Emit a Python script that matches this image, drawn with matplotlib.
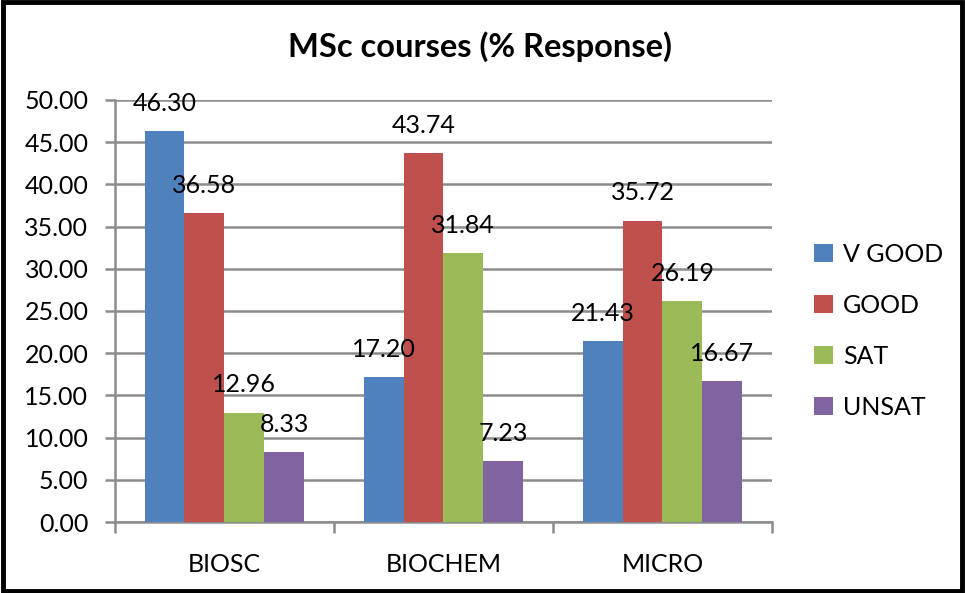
import numpy as np
import matplotlib.pyplot as plt
from matplotlib.patches import Rectangle

plt.rcParams['font.family'] = ['Lato', 'DejaVu Sans']

courses = ['BIOSC', 'BIOCHEM', 'MICRO']
series = ['V GOOD', 'GOOD', 'SAT', 'UNSAT']
v_good = [46.30, 17.20, 21.43]
good = [36.58, 43.74, 35.72]
sat = [12.96, 31.84, 26.19]
unsat = [8.33, 7.23, 16.67]
yticks = [0, 5, 10, 15, 20, 25, 30, 35, 40, 45, 50]

colors = ['#4F81BD', '#C0504D', '#9BBB59', '#8064A2']
grid_col = '#8C8C8C'

fig = plt.figure(figsize=(9.65, 5.93), dpi=100)
ax = fig.add_axes([0.119, 0.1197, 0.681, 0.7117])

x = np.arange(len(courses))
w = 0.182
for i, (name, vals) in enumerate(zip(series, [v_good, good, sat, unsat])):
    pos = x + (i - 1.5) * w
    ax.bar(pos, vals, width=w, color=colors[i], label=name, zorder=3)
    for p, v in zip(pos, vals):
        ax.annotate('%.2f' % v, (p, v), xytext=(0, 14.5), textcoords='offset points',
                    ha='center', va='baseline', fontsize=18, zorder=4)

ax.set_xlim(-0.5, 2.5)
ax.set_ylim(0, 50)
ax.set_yticks(yticks)
ax.set_yticklabels(['%.2f' % t for t in yticks])
ax.yaxis.grid(True, color=grid_col, linewidth=1.8, zorder=0)
ax.set_axisbelow(True)

ax.set_xticks([-0.5, 0.5, 1.5, 2.5])
ax.set_xticklabels([])
ax.set_xticks(x, minor=True)
ax.set_xticklabels(courses, minor=True)
ax.tick_params(axis='x', which='major', length=8, width=1.8, color=grid_col)
ax.tick_params(axis='x', which='minor', length=0, pad=22, labelsize=18)
ax.tick_params(axis='y', length=7, width=1.8, color=grid_col, pad=12, labelsize=18)

for s in ['top', 'right']:
    ax.spines[s].set_visible(False)
for s in ['left', 'bottom']:
    ax.spines[s].set_color(grid_col)
    ax.spines[s].set_linewidth(1.8)

fig.text(0.497, 0.922, 'MSc courses (% Response)', ha='center', va='center',
         fontsize=23.5, fontweight='bold')

ax.legend(loc='center left', bbox_to_anchor=(1.03, 0.453), frameon=False, fontsize=18,
          handlelength=0.75, handleheight=0.75, handletextpad=0.4, labelspacing=1.12)

fig.patches.append(Rectangle((0.003, 0.004), 0.994, 0.992, transform=fig.transFigure,
                             fill=False, edgecolor='black', linewidth=3.5))

fig.savefig('out.png', dpi=100)
